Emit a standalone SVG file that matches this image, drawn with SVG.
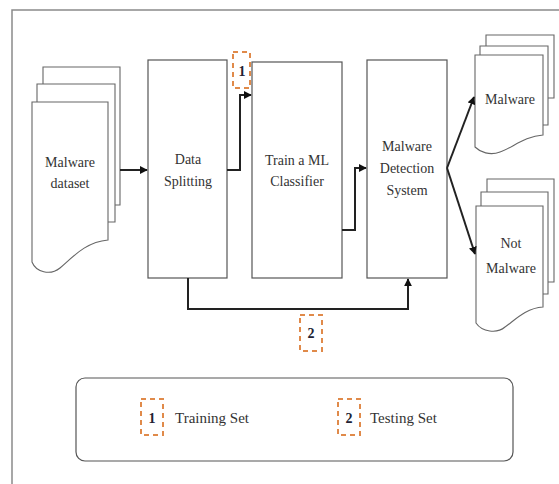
<svg xmlns="http://www.w3.org/2000/svg" width="559" height="484" viewBox="0 0 559 484">
<defs>
<style>
.frame{fill:none;stroke:#8a8a8a;stroke-width:1.5}
.box{fill:#fff;stroke:#555;stroke-width:1.2}
.doc{fill:#fff;stroke:#666;stroke-width:1.1}
.conn{fill:none;stroke:#222;stroke-width:2}
.dash{fill:#fff;stroke:#e08a4a;stroke-width:2;stroke-dasharray:5,4}
.t{font-family:"Liberation Serif","Times New Roman",serif;font-size:14px;fill:#333;text-anchor:middle}
.n{font-family:"Liberation Serif","Times New Roman",serif;font-size:14px;font-weight:bold;fill:#223;text-anchor:middle}
.l{font-family:"Liberation Serif","Times New Roman",serif;font-size:15px;fill:#333}
</style>
<marker id="ah" viewBox="0 0 10 10" refX="9" refY="5" markerWidth="4" markerHeight="4" orient="auto-start-reverse" markerUnits="strokeWidth">
<path d="M0,0 L10,5 L0,10 z" fill="#111"/>
</marker>
</defs>
<rect width="559" height="484" fill="#fff"/>
<path class="frame" d="M12,484 L12,10 L559,10"/>

<g id="dataset">
<path class="doc" d="M43,84 V67 H120 V205 H115"/>
<path class="doc" d="M37,102 V84 H115 V222 H108"/>
<path class="doc" d="M32,102 H108 V240 C85,242 72,258 60,268 C50,276 36,272 32,262 Z"/>
<text class="t" x="70" y="167">Malware</text>
<text class="t" x="70" y="188">dataset</text>
</g>

<g id="splitting">
<rect class="box" x="148" y="60" width="79" height="218"/>
<text class="t" x="188" y="164">Data</text>
<text class="t" x="188" y="186">Splitting</text>
</g>

<g id="train">
<rect class="box" x="252" y="62" width="90" height="216"/>
<text class="t" x="297" y="165">Train a ML</text>
<text class="t" x="297" y="186">Classifier</text>
</g>

<g id="mds">
<rect class="box" x="367" y="60" width="80" height="218"/>
<text class="t" x="407" y="151">Malware</text>
<text class="t" x="407" y="173">Detection</text>
<text class="t" x="407" y="195">System</text>
</g>

<g id="malware">
<path class="doc" d="M486,46 V35 H554 V98 H548"/>
<path class="doc" d="M480,55 V46 H548 V125 H543"/>
<path class="doc" d="M475,55 H543 V135 C525,136 512,148 500,152 C490,156 480,152 475,147 Z"/>
<text class="t" x="510" y="104">Malware</text>
</g>

<g id="notmalware">
<path class="doc" d="M487,192 V179 H554 V282 H548"/>
<path class="doc" d="M481,206 V192 H548 V294 H543"/>
<path class="doc" d="M476,206 H543 V307 C525,308 513,322 505,327 C497,334 482,332 476,323 Z"/>
<text class="t" x="511" y="248">Not</text>
<text class="t" x="511" y="273">Malware</text>
</g>

<g id="connectors">
<path class="conn" d="M120,170 H147" marker-end="url(#ah)"/>
<path class="conn" d="M227,170 H240 V95 H251" marker-end="url(#ah)"/>
<path class="conn" d="M342,230 H355 V168 H366" marker-end="url(#ah)"/>
<path class="conn" d="M447,168 L474,97" marker-end="url(#ah)"/>
<path class="conn" d="M447,168 L475,254" marker-end="url(#ah)"/>
<path class="conn" d="M188,278 V309 H408 V279" marker-end="url(#ah)"/>
</g>

<g id="label1">
<rect class="dash" x="233" y="52" width="17" height="36"/>
<text class="n" x="242" y="76">1</text>
</g>
<g id="label2">
<rect class="dash" x="300" y="315" width="22" height="36"/>
<text class="n" x="311" y="338">2</text>
</g>

<g id="legend">
<rect class="box" x="76" y="378" width="437" height="83" rx="9" stroke="#777"/>
<rect class="dash" x="141" y="399" width="22" height="36"/>
<text class="n" x="152" y="423">1</text>
<text class="l" x="175" y="423">Training Set</text>
<rect class="dash" x="338" y="399" width="22" height="36"/>
<text class="n" x="349" y="423">2</text>
<text class="l" x="370" y="423">Testing Set</text>
</g>
</svg>
